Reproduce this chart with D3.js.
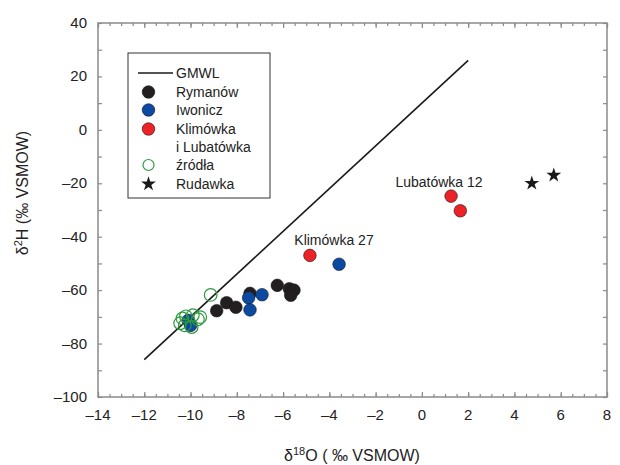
<!DOCTYPE html>
<html>
<head>
<meta charset="utf-8">
<script src="https://cdn.jsdelivr.net/npm/d3@7"></script>
<style>
  body { margin: 0; background: #fff; }
  svg { font-family: "Liberation Sans", Arial, sans-serif; }
</style>
</head>
<body>
<div id="chart"></div>
<script>
/* data: [δ18O, δ2H] */
const rymanow = [[-8.87, -67.7], [-8.44, -64.7], [-8.04, -66.4], [-7.43, -61.2],
    [-6.25, -58.2], [-5.73, -59.5], [-5.53, -60.0], [-5.67, -61.9]];
const iwonicz = [[-7.49, -62.9], [-6.91, -61.7], [-7.43, -67.4], [-3.58, -50.3],
    [-10.1, -71.3], [-10.0, -73.2]];
const klimLub = [[-4.84, -47.0], [1.26, -24.8], [1.66, -30.3]];
const zrodla = [[-9.13, -61.8], [-10.35, -70.6], [-10.45, -72.4], [-10.2, -69.8],
    [-9.9, -69.4], [-9.68, -70.9], [-9.95, -73.8], [-10.25, -73.2], [-9.58, -70.1]];
const rudawka = [[4.75, -20.0], [5.70, -17.0]];
const gmwlX = [-12, 2];   // GMWL: δ2H = 8·δ18O + 10
const xTicks = d3.range(-14, 9, 2);
const yTicks = d3.range(-100, 41, 20);
const notes = [
    { text: "Lubatówka 12", x: 0.74, y: -21.4 },
    { text: "Klimówka 27", x: -3.8, y: -43.1 }
];

/* svg size */
const width = 620;
const height = 465;
const plot = { left: 98, right: 607, top: 23, bottom: 397 };

const x = d3.scaleLinear().domain([-14, 8]).range([plot.left, plot.right]);
const y = d3.scaleLinear().domain([-100, 40]).range([plot.bottom, plot.top]);

const svg = d3.select("#chart").append("svg")
    .attr("width", width)
    .attr("height", height);

const fmt = d => d < 0 ? "\u2013" + Math.abs(d) : String(d);
const frameColor = "#8a8a8a";

/* axes with inward ticks on all four sides */
const minorX = d3.range(-14, 8.01, 0.5);
const minorY = d3.range(-100, 40.01, 10);

svg.append("g")
    .attr("transform", `translate(0,${plot.bottom})`)
    .call(d3.axisTop(x).tickValues(minorX).tickSize(3).tickFormat(""))
    .call(g => g.select(".domain").remove());
svg.append("g")
    .attr("transform", `translate(0,${plot.bottom})`)
    .call(d3.axisTop(x).tickValues(xTicks).tickSize(5).tickFormat(""))
    .call(g => g.select(".domain").remove());
svg.append("g")
    .attr("transform", `translate(0,${plot.top})`)
    .call(d3.axisBottom(x).tickValues(minorX).tickSize(3).tickFormat(""))
    .call(g => g.select(".domain").remove());
svg.append("g")
    .attr("transform", `translate(0,${plot.top})`)
    .call(d3.axisBottom(x).tickValues(xTicks).tickSize(5).tickFormat(""))
    .call(g => g.select(".domain").remove());
svg.append("g")
    .attr("transform", `translate(${plot.left},0)`)
    .call(d3.axisRight(y).tickValues(minorY).tickSize(4).tickFormat(""))
    .call(g => g.select(".domain").remove());
svg.append("g")
    .attr("transform", `translate(${plot.right},0)`)
    .call(d3.axisLeft(y).tickValues(minorY).tickSize(4).tickFormat(""))
    .call(g => g.select(".domain").remove());

svg.selectAll(".tick line").attr("stroke", frameColor).attr("stroke-width", 1.2);

svg.append("rect")
    .attr("x", plot.left).attr("y", plot.top)
    .attr("width", plot.right - plot.left).attr("height", plot.bottom - plot.top)
    .attr("fill", "none").attr("stroke", frameColor).attr("stroke-width", 1.5);

/* tick labels */
svg.append("g").selectAll("text")
    .data(xTicks)
    .join("text")
    .attr("x", d => x(d))
    .attr("y", plot.bottom + 23)
    .attr("text-anchor", "middle")
    .attr("font-size", 15)
    .attr("fill", "#222")
    .text(fmt);

svg.append("g").selectAll("text")
    .data(yTicks)
    .join("text")
    .attr("x", plot.left - 11)
    .attr("y", d => y(d) + 5)
    .attr("text-anchor", "end")
    .attr("font-size", 15)
    .attr("fill", "#222")
    .text(fmt);

/* axis titles */
const xTitle = svg.append("text")
    .attr("x", 352).attr("y", 461)
    .attr("text-anchor", "middle")
    .attr("font-size", 16)
    .attr("fill", "#222");
xTitle.append("tspan").text("\u03b4");
xTitle.append("tspan").attr("font-size", 11).attr("dy", -6).text("18");
xTitle.append("tspan").attr("dy", 6).text("O ( \u2030 VSMOW)");

const yTitle = svg.append("text")
    .attr("transform", "translate(28,193) rotate(-90)")
    .attr("text-anchor", "middle")
    .attr("font-size", 16)
    .attr("fill", "#222");
yTitle.append("tspan").text("\u03b4");
yTitle.append("tspan").attr("font-size", 11).attr("dy", -6).text("2");
yTitle.append("tspan").attr("dy", 6).text("H (\u2030 VSMOW)");

/* GMWL */
const line = d3.line().x(d => x(d)).y(d => y(8 * d + 10));
svg.append("path")
    .datum(gmwlX)
    .attr("d", line)
    .attr("fill", "none")
    .attr("stroke", "#1a1a1a")
    .attr("stroke-width", 1.6);

/* points */
const colors = { ry: "#231f20", iw: "#0b4aa2", kl: "#ec2227", zr: "#2e9a3e" };
const r = 6.3;

function dots(data, fill) {
    svg.append("g").selectAll("circle")
        .data(data)
        .join("circle")
        .attr("cx", d => x(d[0]))
        .attr("cy", d => y(d[1]))
        .attr("r", r)
        .attr("fill", fill)
        .attr("stroke", "#1a1a1a")
        .attr("stroke-width", 0.6);
}

dots(rymanow, colors.ry);
dots(iwonicz, colors.iw);
dots(klimLub, colors.kl);

svg.append("g").selectAll("circle")
    .data(zrodla)
    .join("circle")
    .attr("cx", d => x(d[0]))
    .attr("cy", d => y(d[1]))
    .attr("r", r)
    .attr("fill", "none")
    .attr("stroke", colors.zr)
    .attr("stroke-width", 1.2);

const star = d3.symbol().type(d3.symbolStar).size(68);
svg.append("g").selectAll("path")
    .data(rudawka)
    .join("path")
    .attr("transform", d => `translate(${x(d[0])},${y(d[1])})`)
    .attr("d", star)
    .attr("fill", "#1a1a1a");

/* point labels */
svg.append("g").selectAll("text")
    .data(notes)
    .join("text")
    .attr("x", d => x(d.x))
    .attr("y", d => y(d.y))
    .attr("text-anchor", "middle")
    .attr("font-size", 14)
    .attr("fill", "#222")
    .text(d => d.text);

/* legend */
const legend = svg.append("g");
legend.append("rect")
    .attr("x", 128).attr("y", 53)
    .attr("width", 142).attr("height", 145)
    .attr("fill", "#fff")
    .attr("stroke", "#333").attr("stroke-width", 1);

const legendItems = [
    { label: "GMWL", kind: "line", ly: 78 },
    { label: "Rymanów", kind: "dot", color: colors.ry, ly: 97 },
    { label: "Iwonicz", kind: "dot", color: colors.iw, ly: 115 },
    { label: "Klimówka", kind: "dot", color: colors.kl, ly: 134 },
    { label: "i Lubatówka", kind: "none", ly: 152 },
    { label: "źródła", kind: "open", color: colors.zr, ly: 170 },
    { label: "Rudawka", kind: "star", ly: 189 }
];

legendItems.forEach(function (d) {
    const cy = d.ly - 5;
    if (d.kind === "line") {
        legend.append("line")
            .attr("x1", 138).attr("x2", 173)
            .attr("y1", cy).attr("y2", cy)
            .attr("stroke", "#1a1a1a").attr("stroke-width", 1.6);
    } else if (d.kind === "dot") {
        legend.append("circle")
            .attr("cx", 148.5).attr("cy", cy).attr("r", r)
            .attr("fill", d.color).attr("stroke", "#1a1a1a").attr("stroke-width", 0.6);
    } else if (d.kind === "open") {
        legend.append("circle")
            .attr("cx", 148.5).attr("cy", cy).attr("r", 5.5)
            .attr("fill", "none").attr("stroke", d.color).attr("stroke-width", 1.2);
    } else if (d.kind === "star") {
        legend.append("path")
            .attr("transform", `translate(148.5,${cy})`)
            .attr("d", star)
            .attr("fill", "#1a1a1a");
    }
    legend.append("text")
        .attr("x", 176)
        .attr("y", d.ly)
        .attr("font-size", 14)
        .attr("fill", "#222")
        .text(d.label);
});
</script>
</body>
</html>
